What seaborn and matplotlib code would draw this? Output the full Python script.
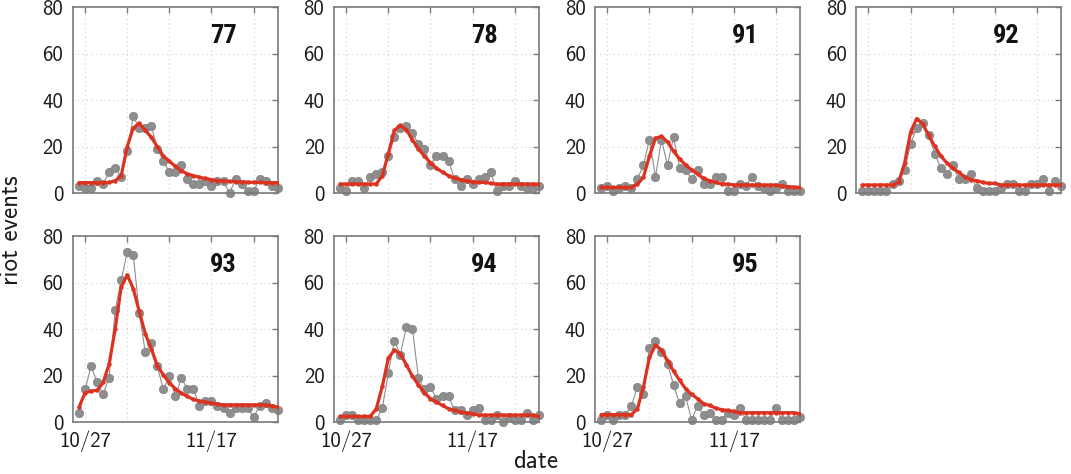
import pandas as pd
import numpy as np
import matplotlib
matplotlib.use("Agg")
import matplotlib.pyplot as plt
from matplotlib import font_manager
import seaborn as sns

# daily riot counts (grey) and model fit (red), 10/26 .. 11/28
dates = pd.date_range("2005-10-26", "2005-11-28", freq="D")
panel_ids = ["77", "78", "91", "92", "93", "94", "95"]

obs_77 = [3, 2, 2, 5, 4, 9, 11, 7, 18, 33, 28, 28, 29, 19, 14, 9, 9, 12, 6, 4,
          4, 5, 3, 5, 5, 0, 6, 4, 1, 1, 6, 5, 3, 2]
fit_77 = [4.5, 4.5, 4.5, 4.5, 4.5, 4.6, 5.3, 7.5, 20, 28, 30, 27, 24, 20, 16, 13.7,
          11.5, 9.7, 8.2, 7.5, 6.8, 6.3, 5.8, 5.3, 5.2, 5.0, 4.9, 4.8, 4.7, 4.6,
          4.6, 4.5, 4.5, 4.5]

obs_78 = [2, 1, 5, 5, 2, 7, 8, 9, 16, 24, 28, 29, 26, 21, 19, 12, 16, 16, 14, 6,
          3, 6, 4, 6, 7, 9, 1, 3, 3, 5, 3, 2, 2, 3]
fit_78 = [3.9] * 7 + [7.5, 16.9, 27, 29.1, 27.2, 22.9, 19, 15.9, 13, 10.7, 9, 7.5,
                      6.5, 5.8, 5.3, 4.9, 4.6, 4.6, 4.2] + [3.9] * 8

obs_91 = [2, 3, 1, 2, 3, 2, 6, 12, 23, 7, 23, 12, 24, 11, 10, 6, 10, 4, 4, 7,
          7, 1, 1, 4, 3, 7, 3, 2, 1, 2, 4, 1, 1, 1]
fit_91 = [2.4] * 6 + [3.9, 6.8, 16, 23.6, 24.4, 22, 18, 14.7, 12.1, 10, 8.2, 6.3,
                      5.3, 4.6, 3.9, 3.9] + [3.5] * 8 + [3.0, 2.8, 2.6, 2.4]

obs_92 = [1, 1, 1, 1, 1, 4, 5, 10, 21, 28, 30, 25, 17, 11, 8, 12, 6, 6, 8, 2,
          1, 1, 1, 2, 4, 4, 1, 1, 4, 4, 6, 1, 5, 3]
fit_92 = [3.5] * 6 + [4.6, 12.8, 26.2, 32, 29.8, 24.8, 20.2, 16.1, 13, 10.7, 8.9,
                      7.1, 5.8, 5.3, 4.6, 4.2, 4.2] + [3.5] * 11

obs_93 = [4, 14, 24, 17, 12, 19, 48, 61, 73, 72, 47, 30, 34, 24, 14, 20, 11, 19, 14, 14,
          7, 9, 9, 7, 6, 4, 6, 6, 6, 2, 7, 8, 6, 5]
fit_93 = [6.4, 12.6, 13.3, 13.6, 17, 25, 40, 58, 63.3, 57.4, 47.6, 38, 31.4, 24.3,
          20.3, 16.9, 14.3, 12.4, 11, 9.7, 9, 8.6, 8.1, 7.7, 7.4, 7.4, 7.4, 7.4,
          7.4, 7.4, 7.4, 7.4, 7.0, 6.4]

obs_94 = [1, 3, 3, 1, 1, 1, 1, 6, 21, 35, 29, 41, 40, 19, 14, 15, 10, 11, 11, 5,
          5, 3, 5, 6, 1, 1, 3, 0, 2, 1, 1, 4, 1, 3]
fit_94 = [2.4] * 6 + [5.7, 15.3, 27.4, 31, 29.3, 24.6, 19.7, 16, 12.6, 10, 8.6,
                      7.1, 5.7, 5, 4.3, 3.9, 3.6] + [3] * 10 + [2.4]

obs_95 = [1, 3, 1, 3, 3, 7, 15, 12, 32, 35, 30, 25, 16, 8, 11, 1, 7, 3, 4, 1,
          1, 4, 3, 6, 1, 1, 1, 1, 1, 6, 1, 1, 1, 2]
fit_95 = [3.2] * 6 + [5.7, 15, 27.9, 33, 31, 26.4, 21.9, 18, 14.3, 11.9, 10, 7.9,
                      7.1, 6, 5.3, 5, 4.6] + [4] * 10 + [3.6]

observed = [obs_77, obs_78, obs_91, obs_92, obs_93, obs_94, obs_95]
fitted = [fit_77, fit_78, fit_91, fit_92, fit_93, fit_94, fit_95]

tick_dates = pd.to_datetime(["2005-10-27", "2005-11-03", "2005-11-10", "2005-11-17", "2005-11-24"])
tick_labels = ["10/27", "", "", "11/17", ""]

sns.set_style("white")
plt.rcParams["font.family"] = ["cmss10", "DejaVu Sans"]
plt.rcParams["axes.unicode_minus"] = False

# narrow bold face for the panel numbers, if one is around
names = {f.name for f in font_manager.fontManager.ttflist}
if "Liberation Sans Narrow" in names:
    id_font = dict(family="Liberation Sans Narrow", fontsize=19)
elif "Roboto Condensed" in names:
    id_font = dict(family="Roboto Condensed", fontsize=19)
else:
    id_font = dict(family="Roboto", fontsize=18)

RED = "#dc3220"
GREY = "#8e8e8e"
FRAME = "#7a7a7a"

fig, axes = plt.subplots(2, 4, figsize=(10.71, 4.74), dpi=100)
fig.subplots_adjust(left=0.0682, right=0.9907, top=0.985, bottom=0.1097,
                    wspace=0.276, hspace=0.231)
axes = axes.flatten()

for i, ax in enumerate(axes):
    if i >= len(panel_ids):
        ax.axis("off")
        continue
    df = pd.DataFrame({"date": dates, "obs": observed[i], "fit": fitted[i]})
    sns.lineplot(data=df, x="date", y="obs", ax=ax, color=GREY, lw=0.8,
                 marker="o", markersize=6, markeredgecolor="#808080",
                 markeredgewidth=0.5, clip_on=False, zorder=2)
    sns.lineplot(data=df, x="date", y="fit", ax=ax, color=RED, lw=2.3,
                 marker="o", markersize=3.2, markeredgecolor=RED,
                 markeredgewidth=0, zorder=3)

    ax.set_xlim(pd.Timestamp("2005-10-25"), pd.Timestamp("2005-11-28"))
    ax.set_ylim(0, 80)
    ax.set_yticks([0, 20, 40, 60, 80])
    ax.set_xticks(tick_dates)
    if i >= 4:
        ax.set_xticklabels(tick_labels)
    else:
        ax.set_xticklabels([])
    ax.set_xlabel("")
    ax.set_ylabel("")
    ax.grid(True, color="#d0d0d0", linestyle=(0, (1, 3)), lw=0.8)
    ax.tick_params(direction="in", top=True, right=True, length=4, width=1,
                   color=FRAME, labelsize=15, labelcolor="#1a1a1a", pad=7)
    ax.tick_params(axis="x", pad=6)
    for sp in ax.spines.values():
        sp.set_color(FRAME)
        sp.set_linewidth(1.2)
    ax.text(0.733, 0.845, panel_ids[i], transform=ax.transAxes, ha="center",
            va="center", fontweight="bold", color="#111111", **id_font)

fig.text(0.011, 0.515, "riot events", rotation=90, ha="center", va="center",
         fontsize=18, color="#1a1a1a")
fig.text(0.5, 0.026, "date", ha="center", va="center", fontsize=18, color="#1a1a1a")

fig.savefig("out.png", dpi=100)
